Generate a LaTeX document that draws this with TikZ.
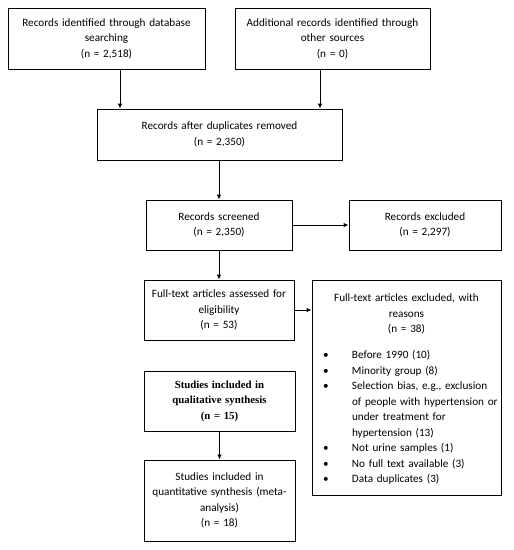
\documentclass[tikz,border=0pt]{standalone}
\usepackage{fontspec}
\setmainfont{Carlito}
\newfontfamily\qualfont{Liberation Serif}
\usetikzlibrary{arrows.meta, positioning}

% one bullet line of the exclusion list
\newcommand{\exitem}[1]{\par\noindent\hangindent=37pt\hangafter=1\makebox[37pt][l]{\hspace{8pt}\textbullet}#1}

\begin{document}
\begin{tikzpicture}[x=1pt,y=-1pt,
    box/.style={draw, line width=0.9pt, inner sep=0pt, font=\fontsize{11.2}{15.5}\selectfont},
    cbox/.style={box, align=center},
    arr/.style={-{Latex[length=5pt,width=4.5pt]}, line width=0.9pt}]
  \useasboundingbox (0,0) rectangle (514,550);

  % identification
  \node[cbox, minimum width=197pt, minimum height=61pt, text width=193pt] (id1) at (106.5,38.5)
    {Records identified through database\\ searching\\ (n = 2,518)};
  \node[cbox, minimum width=195pt, minimum height=61pt, text width=191pt] (id2) at (332.5,38.5)
    {Additional records identified through\\ other sources\\ (n = 0)};
  \node[cbox, minimum width=245pt, minimum height=51pt, text width=240pt] (dup) at (219.5,134.5)
    {Records after duplicates removed\\ (n = 2,350)};

  % screening
  \node[cbox, minimum width=146pt, minimum height=50pt, text width=142pt] (scr) at (219,225)
    {Records screened\\ (n = 2,350)};
  \node[cbox, minimum width=152pt, minimum height=50pt, text width=148pt] (excl) at (425,225)
    {Records excluded\\ (n = 2,297)};

  % eligibility
  \node[cbox, minimum width=150pt, minimum height=60pt, text width=146pt] (full) at (219,310)
    {Full-text articles assessed for\\ eligibility\\ (n = 53)};
  \node[box, minimum width=189pt, minimum height=215pt, text width=183pt] (fexcl) at (406.5,387.5)
    {{\centering Full-text articles excluded, with\\ reasons\\ (n = 38)\par}\vspace{10.5pt}
     \raggedright
     \exitem{Before 1990 (10)}
     \exitem{Minority group (8)}
     \exitem{Selection bias, e.g., exclusion\newline of people with hypertension or\newline under treatment for\newline hypertension (13)}
     \exitem{Not urine samples (1)}
     \exitem{No full text available (3)}
     \exitem{Data duplicates (3)}\par\kern-4pt};

  % included
  \node[cbox, minimum width=151pt, minimum height=60pt, text width=147pt,
        font={\qualfont\bfseries\fontsize{10.8}{15.5}\selectfont}] (qual) at (219.5,401)
    {Studies included in\\ qualitative synthesis\\ (n = 15)};
  \node[cbox, minimum width=151pt, minimum height=81pt, text width=147pt] (quant) at (219.5,500.5)
    {Studies included in\\ quantitative synthesis (meta-\\ analysis)\\ (n = 18)};

  \draw[arr] ([xshift=13.5pt]id1.south) -- ([xshift=13.5pt]id1.south |- dup.north);
  \draw[arr] ([xshift=-12.5pt]id2.south) -- ([xshift=-12.5pt]id2.south |- dup.north);
  \draw[arr] (scr.north |- dup.south) -- (scr.north);
  \draw[arr] (scr.east) -- (excl.west);
  \draw[arr] (scr.south) -- (full.north);
  \draw[arr] (full.east) -- (full.east -| fexcl.west);
  \draw[arr] (qual.south) -- (quant.north);
\end{tikzpicture}
\end{document}
